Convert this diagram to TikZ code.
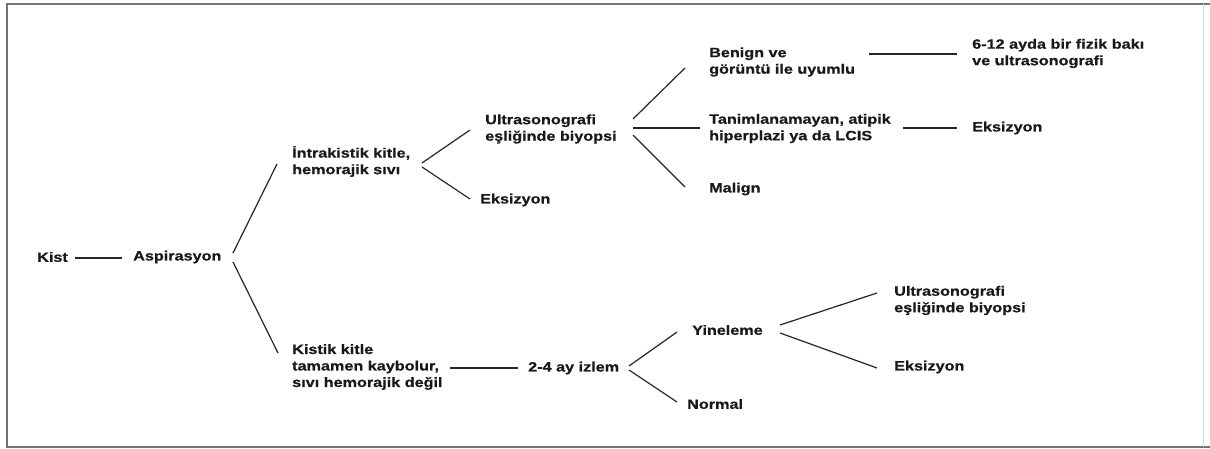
\documentclass[tikz,border=0pt]{standalone}
\usepackage{fontspec}
\newfontfamily\lblfont{Liberation Sans}[FakeStretch=1.2, FakeBold=0.6]
\usetikzlibrary{calc}

\tikzset{
  lbl/.style={anchor=west, inner sep=0pt, align=left, text=black!90,
    font=\lblfont\bfseries\fontsize{13.5}{16.5}\selectfont},
  conn/.style={draw=black!85, line width=1.2pt},
  frameline/.style={draw=black!55, line width=1.6pt}
}

\begin{document}
\begin{tikzpicture}[x=1pt, y=-1pt]
  \useasboundingbox (0,0) rectangle (1210,449);
  \fill[white] (0,0) rectangle (1210,449);

  % outer frame
  \draw[frameline] (1210,4) -- (7,4) -- (7,447) -- (1210,447);
  \draw[draw=black!15, line width=0.8pt] (1203,4) -- (1203,447);

  % labels
  \node[lbl] (kist)     at (37,257)    {Kist};
  \node[lbl] (asp)      at (133,257)   {Aspirasyon};
  \node[lbl] (intra)    at (292,161.5) {İntrakistik kitle,\\hemorajik sıvı};
  \node[lbl] (kistik)   at (292,367)   {Kistik kitle\\tamamen kaybolur,\\sıvı hemorajik değil};
  \node[lbl] (usg1)     at (485,129)   {Ultrasonografi\\eşliğinde biyopsi};
  \node[lbl] (eks1)     at (480,200)   {Eksizyon};
  \node[lbl] (benign)   at (709,62)    {Benign ve\\görüntü ile uyumlu};
  \node[lbl] (tanim)    at (709,128.5) {Tanimlanamayan, atipik\\hiperplazi ya da LCIS};
  \node[lbl] (malign)   at (709,189)   {Malign};
  \node[lbl] (fizik)    at (972,53.5)  {6-12 ayda bir fizik bakı\\ve ultrasonografi};
  \node[lbl] (eks2)     at (972,128)   {Eksizyon};
  \node[lbl] (izlem)    at (528,368)   {2-4 ay izlem};
  \node[lbl] (yineleme) at (692,330)   {Yineleme};
  \node[lbl] (normal)   at (687,404)   {Normal};
  \node[lbl] (usg2)     at (894,300.5) {Ultrasonografi\\eşliğinde biyopsi};
  \node[lbl] (eks3)     at (894,367)   {Eksizyon};

  % connectors
  \draw[conn] ($(kist.west)+(38,1)$) -- ($(asp.west)+(-11,1)$);
  \draw[conn] ($(asp.west)+(100,-4)$) -- ($(intra.west)+(-15,2.5)$);
  \draw[conn] ($(asp.west)+(100,5)$) -- ($(kistik.west)+(-14,-14)$);
  \draw[conn] ($(intra.west)+(130,1.5)$) -- ($(usg1.west)+(-15,1)$);
  \draw[conn] ($(intra.west)+(130,5.5)$) -- ($(eks1.west)+(-10,-1)$);
  \draw[conn] ($(usg1.west)+(148,-10)$) -- ($(benign.west)+(-24,6)$);
  \draw[conn] ($(usg1.west)+(148,-1)$) -- ($(tanim.west)+(-9,-0.5)$);
  \draw[conn] ($(usg1.west)+(148,6)$) -- ($(malign.west)+(-24,-2)$);
  \draw[conn] ($(benign.west)+(160,-8)$) -- ($(fizik.west)+(-15,0.5)$);
  \draw[conn] ($(tanim.west)+(194,-0.5)$) -- ($(eks2.west)+(-15,0)$);
  \draw[conn] ($(kistik.west)+(158,1)$) -- ($(izlem.west)+(-10,0)$);
  \draw[conn] ($(izlem.west)+(101,-2)$) -- ($(yineleme.west)+(-15,2)$);
  \draw[conn] ($(izlem.west)+(101,2)$) -- ($(normal.west)+(-10,-2)$);
  \draw[conn] ($(yineleme.west)+(88,-5)$) -- ($(usg2.west)+(-17,-7.5)$);
  \draw[conn] ($(yineleme.west)+(88,3)$) -- ($(eks3.west)+(-17,1)$);
\end{tikzpicture}
\end{document}
